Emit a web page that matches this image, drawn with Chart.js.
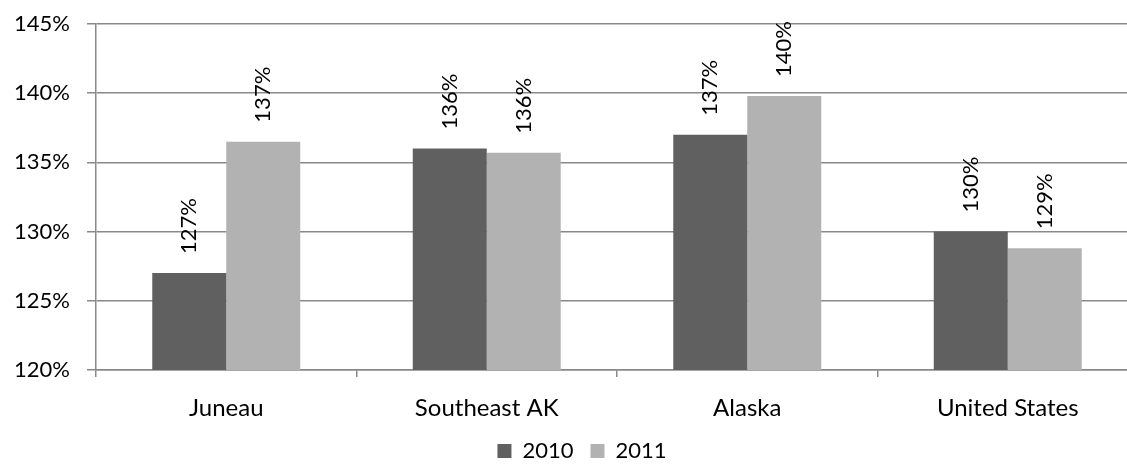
<!DOCTYPE html>
<html>
<head>
<meta charset="utf-8">
<script src="https://cdn.jsdelivr.net/npm/chart.js@4"></script>
<style>
  html, body { margin: 0; padding: 0; background: #fff; overflow: hidden; }
  #wrap { width: 1164px; height: 470px; }
</style>
</head>
<body>
<div id="wrap"><canvas id="chart" width="1164" height="470"></canvas></div>
<script>
const regions = ['Juneau', 'Southeast AK', 'Alaska', 'United States'];
const years = ['2010', '2011'];
const values2010 = [127.0, 136.0, 137.0, 130.0];
const values2011 = [136.5, 135.7, 139.8, 128.8];
const yTicks = [120, 125, 130, 135, 140, 145];
const barColors = ['#606060', '#b2b2b2'];

const FONT = 'Lato, Carlito, Calibri, sans-serif';
const gridColor = '#898989';

// rotated value labels sitting above each bar
const barLabels = {
  id: 'barLabels',
  afterLayout(chart) {
    // centre the legend a little to the right of the canvas middle
    chart.legend.left += 26;
  },
  afterDatasetsDraw(chart) {
    const ctx = chart.ctx;
    ctx.save();
    ctx.font = '22px ' + FONT;
    ctx.fillStyle = '#000';
    ctx.textAlign = 'left';
    ctx.textBaseline = 'middle';
    chart.data.datasets.forEach((ds, i) => {
      chart.getDatasetMeta(i).data.forEach((bar, j) => {
        ctx.save();
        ctx.translate(bar.x, bar.y - 19);
        ctx.rotate(-Math.PI / 2);
        ctx.fillText(Math.round(ds.data[j]) + '%', 0, 0);
        ctx.restore();
      });
    });
    ctx.restore();
  }
};

const chart = new Chart(document.getElementById('chart'), {
  type: 'bar',
  data: {
    labels: regions,
    datasets: [
      { label: years[0], data: values2010, backgroundColor: barColors[0] },
      { label: years[1], data: values2011, backgroundColor: barColors[1] },
    ],
  },
  options: {
    responsive: false,
    animation: false,
    layout: { autoPadding: false, padding: { left: 0, right: 26, top: 24, bottom: -2 } },
    datasets: {
      bar: { barPercentage: 1, categoryPercentage: 0.568, borderWidth: 0 },
    },
    scales: {
      x: {
        afterFit: scale => { scale.height = 53; },
        grid: { drawOnChartArea: false, tickLength: 7, color: gridColor, lineWidth: 1.5 },
        border: { color: gridColor, width: 1.5 },
        ticks: { color: '#000', font: { family: FONT, size: 24 }, padding: 17 },
      },
      y: {
        min: 120,
        max: 145,
        afterBuildTicks: scale => { scale.ticks = yTicks.map(v => ({ value: v })); },
        afterFit: scale => {
          scale.width = 96;
          scale.paddingTop = 0;
          scale.paddingBottom = 0;
        },
        grid: { tickLength: 9, color: gridColor, lineWidth: 1.5 },
        border: { color: gridColor, width: 1.5 },
        ticks: {
          color: '#000',
          font: { family: FONT, size: 22 },
          padding: 17,
          callback: v => v + '%',
        },
      },
    },
    plugins: {
      legend: {
        position: 'bottom',
        labels: {
          color: '#000',
          font: { family: FONT, size: 22 },
          boxWidth: 14,
          boxHeight: 14,
          padding: 17,
        },
      },
      tooltip: { enabled: false },
    },
  },
  plugins: [barLabels],
});
</script>
</body>
</html>
